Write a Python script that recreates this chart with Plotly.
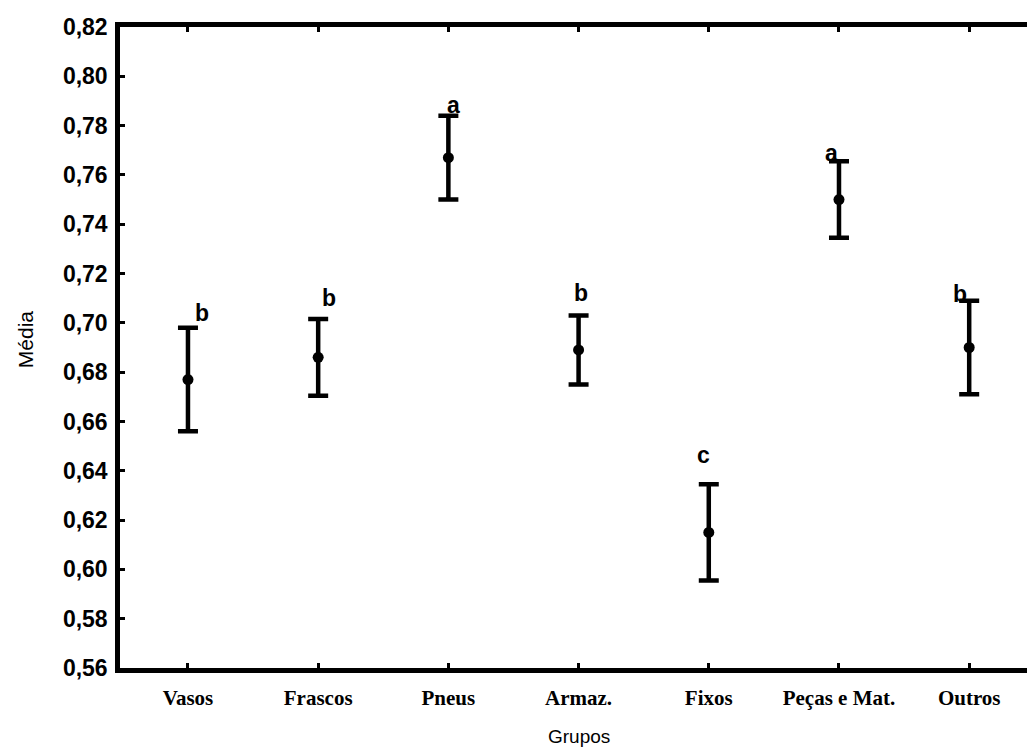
import plotly.graph_objects as go

# Group means with error half-widths and significance letters
grupos = ["Vasos", "Frascos", "Pneus", "Armaz.", "Fixos", "Peças e Mat.", "Outros"]
medias = [0.677, 0.686, 0.767, 0.689, 0.615, 0.750, 0.690]
erros = [0.021, 0.0156, 0.017, 0.014, 0.0195, 0.0155, 0.019]
letras = ["b", "b", "a", "b", "c", "a", "b"]
y_ticks = [0.56, 0.58, 0.60, 0.62, 0.64, 0.66, 0.68, 0.70, 0.72, 0.74, 0.76, 0.78, 0.80, 0.82]

# pixel nudges for the letters (dx, dy)
letra_offsets = [(14, 15), (11, 21), (5, 11), (2, 22), (-5, 29), (-7, 8), (-9, 7)]

x_idx = list(range(len(grupos)))

fig = go.Figure()
fig.add_trace(go.Scatter(
    x=x_idx,
    y=medias,
    mode="markers",
    marker=dict(color="black", size=11),
    error_y=dict(type="data", array=erros, visible=True,
                 color="black", thickness=4.5, width=10),
    showlegend=False,
    hoverinfo="skip",
))

for i, (m, e, l) in enumerate(zip(medias, erros, letras)):
    dx, dy = letra_offsets[i]
    fig.add_annotation(
        x=i, y=m + e, xref="x", yref="y", text=f"<b>{l}</b>", showarrow=False,
        xanchor="center", yanchor="middle", xshift=dx, yshift=dy,
        font=dict(family="Liberation Sans, Arial", size=23, color="black"),
    )

# axis titles
fig.add_annotation(
    x=0.506, y=-0.1076, xref="paper", yref="paper", text="Grupos",
    showarrow=False, xanchor="center", yanchor="middle",
    font=dict(family="Liberation Sans, Arial", size=19, color="black"),
)
fig.add_annotation(
    x=-0.1047, y=0.513, xref="paper", yref="paper", text="Média",
    showarrow=False, xanchor="center", yanchor="middle", textangle=-90,
    font=dict(family="Liberation Sans, Arial", size=21, color="black"),
)

fig.update_layout(
    width=1027, height=750,
    margin=dict(l=120, r=0, t=27, b=82),
    paper_bgcolor="white", plot_bgcolor="white",
    separators=",.",
    font=dict(family="Liberation Sans, Arial", color="black"),
)

fig.update_xaxes(
    range=[-0.522, 6.444],
    tickmode="array", tickvals=x_idx, ticktext=[f"<b>{g}</b>" for g in grupos],
    tickfont=dict(family="Liberation Serif, Times New Roman", size=21, color="black"),
    ticks="inside", ticklen=5, tickwidth=3, tickcolor="black",
    ticklabelstandoff=7,
    showline=True, linecolor="black", linewidth=4.5, mirror="ticks",
    showgrid=False, zeroline=False,
)
fig.update_yaxes(
    range=[0.56, 0.82],
    tickmode="array", tickvals=y_ticks,
    ticktext=[f"<b>{v:.2f}</b>".replace(".", ",") for v in y_ticks],
    tickfont=dict(family="Liberation Sans, Arial", size=23, color="black"),
    ticks="inside", ticklen=5, tickwidth=3, tickcolor="black",
    ticklabelstandoff=3,
    showline=True, linecolor="black", linewidth=4.5, mirror=False,
    showgrid=False, zeroline=False,
)

fig.write_html("out.html")
